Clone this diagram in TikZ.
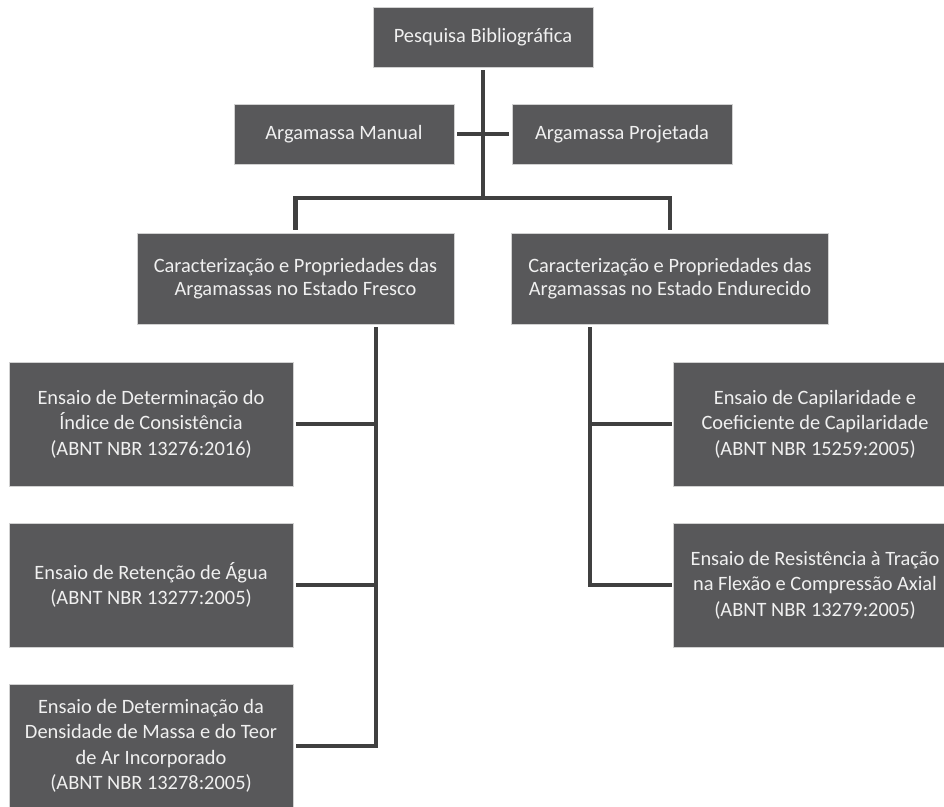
\documentclass[tikz,border=0pt]{standalone}
\usepackage{fontspec}
\setmainfont{Carlito}
\definecolor{boxgray}{HTML}{58585A}
\definecolor{linegray}{HTML}{404040}
\tikzset{
  bloco/.style={draw=black!18,line width=0.6pt,fill=boxgray,text=black!6,align=center,inner sep=0pt,
    font=\fontsize{20.4}{25.5}\selectfont},
  liga/.style={draw=linegray,line width=4.5pt}
}
\begin{document}
\begin{tikzpicture}[x=1pt,y=-1pt]
\useasboundingbox (0,0) rectangle (944,806);
% topo e tipos de argamassa
\node[bloco,minimum width=220pt,minimum height=60pt] (PB) at (483,37) {Pesquisa Bibliográfica};
\node[bloco,minimum width=220pt,minimum height=60pt] (AM) at (344,134) {Argamassa Manual};
\node[bloco,minimum width=220pt,minimum height=60pt] (AP) at (622,134) {Argamassa Projetada};
% estados
\node[bloco,minimum width=317pt,minimum height=91pt,font=\fontsize{20.4}{23}\selectfont] (EF) at (295.5,278.5)
   {Caracterização e Propriedades das\\Argamassas no Estado Fresco};
\node[bloco,minimum width=317pt,minimum height=91pt,font=\fontsize{20.4}{23}\selectfont] (EE) at (670,278.5)
   {Caracterização e Propriedades das\\Argamassas no Estado Endurecido};
% ensaios
\foreach \t/\y [count=\n] in
   {{Ensaio de Determinação do\\Índice de Consistência\\(ABNT NBR 13276:2016)}/424,
    {Ensaio de Retenção de Água\\(ABNT NBR 13277:2005)}/585,
    {Ensaio de Determinação da\\Densidade de Massa e do Teor\\de Ar Incorporado\\(ABNT NBR 13278:2005)}/746}
   \node[bloco,minimum width=284pt,minimum height=124pt] (L\n) at (151,\y) {\t};
\foreach \t/\y [count=\n] in
   {{Ensaio de Capilaridade e\\Coeficiente de Capilaridade\\(ABNT NBR 15259:2005)}/424,
    {Ensaio de Resistência à Tração\\na Flexão e Compressão Axial\\(ABNT NBR 13279:2005)}/585}
   \node[bloco,minimum width=284pt,minimum height=124pt] (R\n) at (815,\y) {\t};

\coordinate (B) at (483,198);
\coordinate (EFc) at ([xshift=80.5pt]EF.south);
\coordinate (EEc) at ([xshift=-80pt]EE.south);
\draw[liga,shorten <=3pt] (PB.south) -- (B);
\draw[liga,shorten <=3pt,shorten >=3pt] (AM.east) -- (AP.west);
\draw[liga,shorten <=3pt,shorten >=3pt] (EF.north) -- (EF.north |- B) -- (EE.north |- B) -- (EE.north);
\draw[liga,shorten <=3pt,shorten >=3pt] (EFc) -- (EFc |- L3.east) -- (L3.east);
\foreach \n in {1,2}
   \draw[liga,shorten >=3pt] (EFc |- L\n.east) -- (L\n.east);
\draw[liga,shorten <=3pt,shorten >=1pt] (EEc) -- (EEc |- R2.west) -- (R2.west);
\draw[liga,shorten >=1pt] (EEc |- R1.west) -- (R1.west);
\end{tikzpicture}
\end{document}
